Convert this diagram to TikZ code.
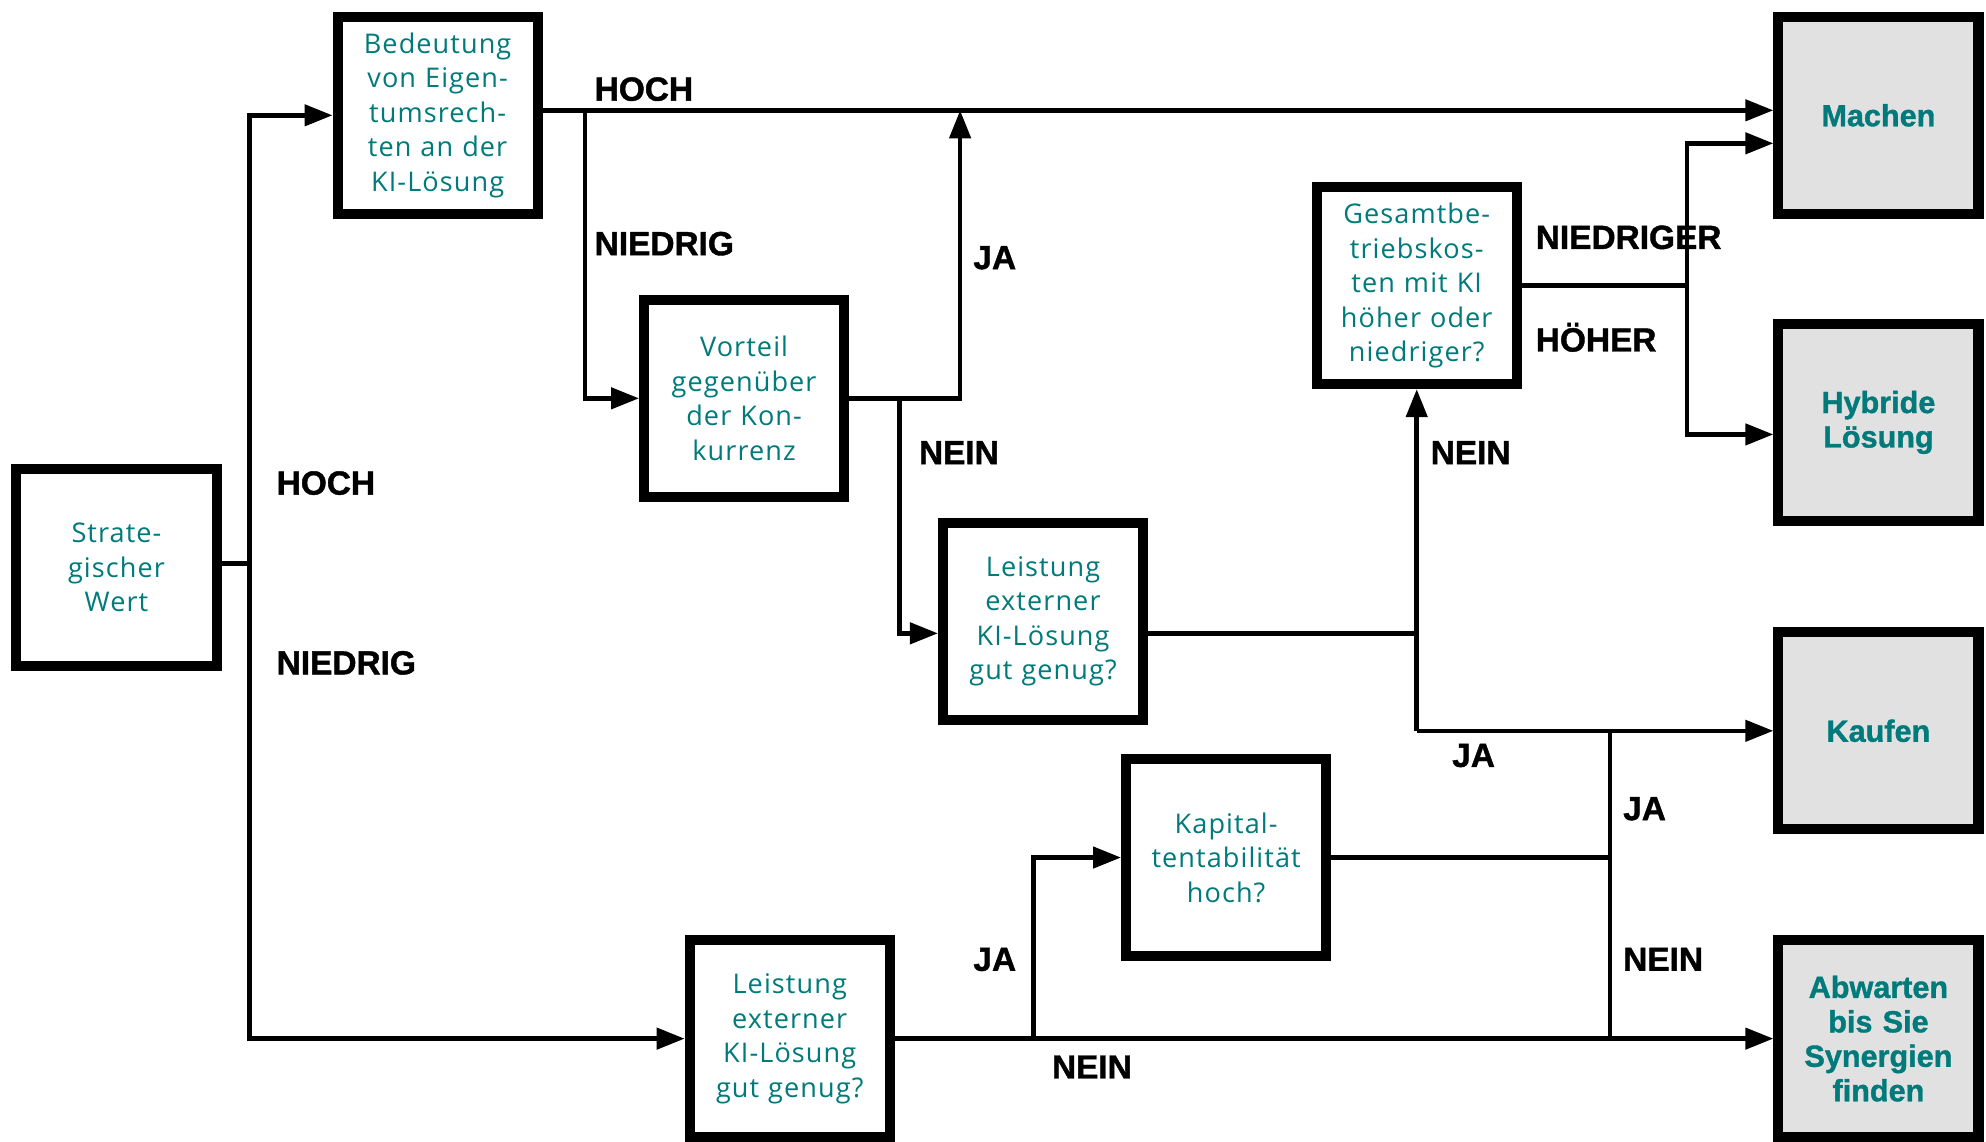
\documentclass[tikz,border=0pt]{standalone}
\usepackage{fontspec}
\setmainfont[LetterSpace=4]{Open Sans}
\newfontfamily\answerfont[BoldFeatures={FakeBold=1.2}]{Liberation Sans}
\usepackage{tikz}
\usetikzlibrary{arrows.meta}

\definecolor{kiteal}{HTML}{007A7A}
\definecolor{kigray}{HTML}{E1E1E1}

\tikzset{
    question/.style={draw, line width=1mm, outer sep=0.5mm, minimum width=2.0cm,
        minimum height=1.97cm, inner sep=0pt, text width=1.85cm, align=center,
        text=kiteal, font=\fontsize{7.7}{9.8}\selectfont},
    outcome/.style={question, fill=kigray, font=\answerfont\bfseries\fontsize{8.7}{9.8}\selectfont},
    flow/.style={line width=0.45mm, -{Triangle[length=2.8mm,width=2.1mm]}},
    plain/.style={line width=0.45mm},
    answer/.style={anchor=west, inner sep=0pt, text height=6.8pt, text depth=0pt,
        font=\answerfont\bfseries\fontsize{9.5}{10}\selectfont},
}

\begin{document}
\begin{tikzpicture}[x=0.01cm, y=-0.01cm]
    \useasboundingbox (0,0) rectangle (1986,1141);

    % questions
    \node[question] (strat) at (116.5,567.5) {Strate-\\gischer\\Wert};
    \node[question] (bed) at (437.6,115.3) {Bedeutung\\von Eigen-\\tumsrech-\\ten an der\\KI-Lösung};
    \node[question] (vort) at (744.1,398.3) {Vorteil\\gegenüber\\der Kon-\\kurrenz};
    \node[question] (leistA) at (1043,621.3) {Leistung\\externer\\KI-Lösung\\gut genug?};
    \node[question] (gesamt) at (1416.7,285.6) {Gesamtbe-\\triebskos-\\ten mit KI\\höher oder\\niedriger?};
    \node[question] (kapital) at (1226.1,857.5) {Kapital-\\tentabilität\\hoch?};
    \node[question] (leistB) at (789.7,1038.6) {Leistung\\externer\\KI-Lösung\\gut genug?};

    % outcomes
    \node[outcome] (machen) at (1878.4,115.3) {Machen};
    \node[outcome] (hybrid) at (1878.4,422.4) {Hybride\\Lösung};
    \node[outcome] (kaufen) at (1878.4,730.8) {Kaufen};
    \node[outcome] (warten) at (1878.4,1038.6) {Abwarten\\bis Sie\\Synergien\\finden};

    % split points
    \coordinate (trunk) at (249.5,0);
    \coordinate (bedsplit) at (585.2,0);
    \coordinate (vortja) at (960.1,0);
    \coordinate (vortnein) at (899.3,0);
    \coordinate (gessplit) at (1687.1,0);
    \coordinate (bja) at (1033.5,0);
    \coordinate (kapsplit) at (1609.9,0);
    \coordinate (stratout) at ([yshift=0.04cm]strat.east);
    \coordinate (bedout) at ([yshift=0.05cm]bed.east);
    \coordinate (leistAin) at ([yshift=-0.12cm]leistA.west);
    \coordinate (leistAout) at ([yshift=-0.12cm]leistA.east);

    \draw[plain] (stratout) -- (stratout -| trunk);
    \draw[flow] (stratout -| trunk) |- (bed.west);
    \draw[flow] (stratout -| trunk) |- (leistB.west);

    \draw[flow] (bedout) -- (bedout -| machen.west);
    \draw[flow] (bedout -| bedsplit) |- (vort.west);

    \draw[flow] (vort.east) -| (bedout -| vortja);
    \draw[flow] (vort.east -| vortnein) |- (leistAin);

    \draw[plain] (leistAout) -- (leistAout -| gesamt.south);
    \draw[flow] (kaufen.west -| gesamt.south) -- (gesamt.south);
    \draw[flow] (kaufen.west -| gesamt.south) -- (kaufen.west);

    \draw[plain] (gesamt.east) -- (gesamt.east -| gessplit);
    \draw[flow] (gesamt.east -| gessplit) |- ([yshift=-0.28cm]machen.west);
    \draw[flow] (gesamt.east -| gessplit) |- ([yshift=-0.12cm]hybrid.west);

    \draw[flow] (leistB.east) -- (warten.west);
    \draw[flow] (leistB.east -| bja) |- (kapital.west);

    \draw[plain] (kapital.east) -- (kapital.east -| kapsplit);
    \draw[plain] (kaufen.west -| kapsplit) -- (warten.west -| kapsplit);

    % answers
    \node[answer] (hochA) at (276,482.6) {HOCH};
    \node[answer] (niedrigA) at (276,662.4) {NIEDRIG};
    \node[answer] (hochB) at (594,88.7) {HOCH};
    \node[answer] (niedrigB) at (594,243.2) {NIEDRIG};
    \node[answer] (jaA) at (972.7,257.1) {JA};
    \node[answer] (neinA) at (918.3,452.2) {NEIN};
    \node[answer] (neinB) at (1430,452.2) {NEIN};
    \node[answer] (jaB) at (1451.5,754.9) {JA};
    \node[answer] (niedriger) at (1535.1,236.9) {NIEDRIGER};
    \node[answer] (hoeher) at (1535.1,339.5) {HÖHER};
    \node[answer] (jaC) at (972.7,958.8) {JA};
    \node[answer] (neinC) at (1051.3,1066.5) {NEIN};
    \node[answer] (jaD) at (1622.5,808.1) {JA};
    \node[answer] (neinD) at (1622.5,958.8) {NEIN};
\end{tikzpicture}
\end{document}
